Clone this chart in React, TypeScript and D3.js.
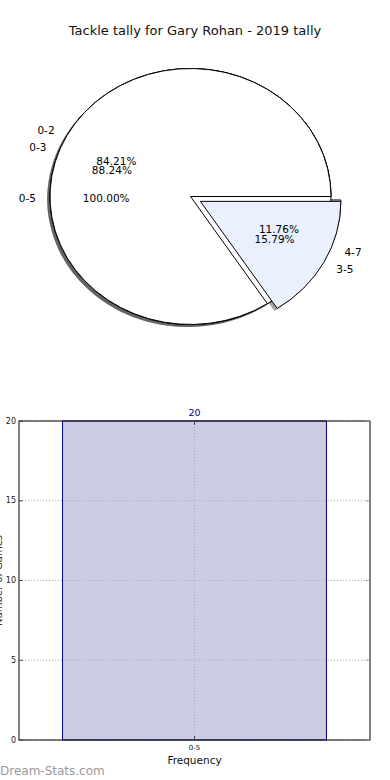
import React from 'react';
import * as d3 from 'd3';

const title = 'Tackle tally for Gary Rohan - 2019 tally';

const pieALabels = ['0-5'];
const pieAValues = [20];
const pieAExplode = [0];

const pieBLabels = ['0-3', '4-7'];
const pieBValues = [15, 2];
const pieBExplode = [0, 0.075];

const pieCLabels = ['0-2', '3-5'];
const pieCValues = [16, 3];
const pieCExplode = [0, 0.08];

const pieColors = ['#ffffff', '#eaf0fd'];

const barCategories = ['0-5'];
const barValues = [20];
const yTicks = [0, 5, 10, 15, 20];

const W = 390;
const H = 780;
const CX = 190.5;
const CY = 196.5;
const RX = 140.5;
const RY = 128;
const FONT = '"DejaVu Sans", sans-serif';

type Slice = {
  key: string;
  path: string;
  ox: number;
  oy: number;
  lx: number;
  ly: number;
  px: number;
  py: number;
  anchor: string;
  label: string;
  pct: string;
  color: string;
};

function layoutPie(name: string, labels: string[], values: number[], explode: number[]): Slice[] {
  const pie = d3
    .pie<number>()
    .sort(null)
    .value((d) => d)
    .startAngle(Math.PI / 2)
    .endAngle(Math.PI / 2 - 2 * Math.PI);
  const arc = d3.arc<d3.PieArcDatum<number>>().innerRadius(0).outerRadius(1);
  const total = d3.sum(values);
  return pie(values).map((a, i) => {
    const mid = (a.startAngle + a.endAngle) / 2;
    const ux = Math.sin(mid);
    const uy = -Math.cos(mid);
    const ox = explode[i] * ux * RX;
    const oy = explode[i] * uy * RY;
    return {
      key: name + i,
      path: arc(a) as string,
      ox,
      oy,
      lx: CX + ox + 1.1 * ux * RX,
      ly: CY + oy + 1.1 * uy * RY,
      px: CX + ox + 0.6 * ux * RX,
      py: CY + oy + 0.6 * uy * RY,
      anchor: ux < -1e-9 ? 'end' : 'start',
      label: labels[i],
      pct: ((values[i] / total) * 100).toFixed(2) + '%',
      color: pieColors[i % pieColors.length],
    };
  });
}

const pieA = layoutPie('A', pieALabels, pieAValues, pieAExplode);
const pieB = layoutPie('B', pieBLabels, pieBValues, pieBExplode);
const pieC = layoutPie('C', pieCLabels, pieCValues, pieCExplode);

// Bar chart frame
const AX_L = 19;
const AX_R = 370;
const AX_T = 421;
const AX_B = 740;

export default function App() {
  const allSlices = [...pieA, ...pieB, ...pieC];
  const drawOrder = [...pieB, ...pieA, ...pieC];

  const x = d3
    .scaleBand<string>()
    .domain(barCategories)
    .range([AX_L, AX_R])
    .paddingInner(0)
    .paddingOuter(0.165);
  const y = d3.scaleLinear().domain([0, 20]).range([AX_B, AX_T]);

  return (
    <svg
      width={W}
      height={H}
      style={{ position: 'absolute', left: 0, top: 0, background: '#fff' }}
      fontFamily={FONT}
    >
      <rect x={0} y={0} width={W} height={H} fill="#fff" />
      <text x={195} y={34.5} textAnchor="middle" fontSize={13} fill="#111">
        {title}
      </text>

      {/* shadows */}
      {allSlices.map((s) => (
        <path
          key={'sh' + s.key}
          d={s.path}
          transform={`translate(${CX + s.ox - 0.02 * RX},${CY + s.oy + 0.02 * RY}) scale(${RX},${RY})`}
          fill="#4d4d4d"
          opacity={0.5}
        />
      ))}
      {/* wedges */}
      {drawOrder.map((s) => (
        <path
          key={'w' + s.key}
          d={s.path}
          transform={`translate(${CX + s.ox},${CY + s.oy}) scale(${RX},${RY})`}
          fill={s.color}
          stroke="#000"
          strokeWidth={1}
          vectorEffect="non-scaling-stroke"
        />
      ))}
      {/* labels */}
      {allSlices.map((s) => (
        <g key={'t' + s.key} fontSize={10.5} fill="#000">
          <text x={s.lx} y={s.ly + 1} textAnchor={s.anchor} dominantBaseline="central">
            {s.label}
          </text>
          <text x={s.px} y={s.py + 1} textAnchor="middle" dominantBaseline="central">
            {s.pct}
          </text>
        </g>
      ))}

      {/* bar chart */}
      {barCategories.map((c, i) => (
        <g key={'bar' + c}>
          <rect
            x={x(c)!}
            y={y(barValues[i])}
            width={x.bandwidth()}
            height={y(0) - y(barValues[i])}
            fill="#ccccE5"
            stroke="#00008b"
            strokeWidth={1}
          />
          <text
            x={x(c)! + x.bandwidth() / 2}
            y={y(barValues[i]) - 5}
            textAnchor="middle"
            fontSize={9.5}
            fill="#00008b"
          >
            {barValues[i]}
          </text>
        </g>
      ))}
      {/* grid */}
      {yTicks.map((t) => (
        <line
          key={'gy' + t}
          x1={AX_L}
          x2={AX_R}
          y1={y(t)}
          y2={y(t)}
          stroke="#a8a8a8"
          strokeWidth={1}
          strokeDasharray="1,2"
        />
      ))}
      {barCategories.map((c) => (
        <line
          key={'gx' + c}
          x1={x(c)! + x.bandwidth() / 2}
          x2={x(c)! + x.bandwidth() / 2}
          y1={AX_T}
          y2={AX_B}
          stroke="#a8a8a8"
          strokeWidth={1}
          strokeDasharray="1,2"
        />
      ))}
      {/* frame */}
      <rect x={AX_L} y={AX_T} width={AX_R - AX_L} height={AX_B - AX_T} fill="none" stroke="#000" strokeWidth={1} />
      {/* ticks */}
      {yTicks.map((t) => (
        <g key={'ty' + t}>
          <line x1={AX_L} x2={AX_L + 4} y1={y(t)} y2={y(t)} stroke="#444" />
          <line x1={AX_R} x2={AX_R - 4} y1={y(t)} y2={y(t)} stroke="#999" />
          <text x={AX_L - 3} y={y(t)} textAnchor="end" dominantBaseline="central" fontSize={8} fill="#222">
            {t}
          </text>
        </g>
      ))}
      {barCategories.map((c) => (
        <g key={'tx' + c}>
          <line x1={x(c)! + x.bandwidth() / 2} x2={x(c)! + x.bandwidth() / 2} y1={AX_B} y2={AX_B - 4} stroke="#444" />
          <line x1={x(c)! + x.bandwidth() / 2} x2={x(c)! + x.bandwidth() / 2} y1={AX_T} y2={AX_T + 4} stroke="#444" />
          <text x={x(c)! + x.bandwidth() / 2} y={AX_B + 10} textAnchor="middle" fontSize={7} fill="#222">
            {c}
          </text>
        </g>
      ))}
      <text x={(AX_L + AX_R) / 2} y={764} textAnchor="middle" fontSize={10.5} fill="#111">
        Frequency
      </text>
      <text
        transform={`translate(2,${(AX_T + AX_B) / 2}) rotate(-90)`}
        textAnchor="middle"
        fontSize={10}
        fill="#333"
      >
        Number of Games
      </text>
      <text x={0} y={775} fontSize={12} fill="#9a9a9a">
        Dream-Stats.com
      </text>
    </svg>
  );
}
